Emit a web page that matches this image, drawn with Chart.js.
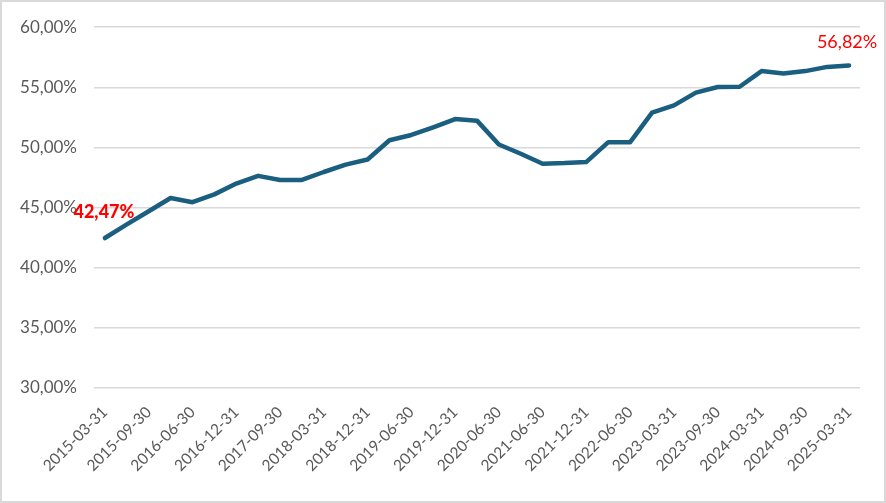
<!DOCTYPE html>
<html>
<head>
<meta charset="utf-8">
<script src="https://cdn.jsdelivr.net/npm/chart.js@4/dist/chart.umd.min.js"></script>
<style>
  body { margin: 0; background: #fff; }
  #box { width: 886px; height: 503px; }
</style>
</head>
<body>
<div id="box"><canvas id="myChart" width="886" height="503"></canvas></div>
<script>
const datas = [
  '2015-03-31', '2015-06-30', '2015-09-30', '2016-03-31', '2016-06-30', '2016-09-30',
  '2016-12-31', '2017-06-30', '2017-09-30', '2017-12-31', '2018-03-31', '2018-09-30',
  '2018-12-31', '2019-03-31', '2019-06-30', '2019-09-30', '2019-12-31', '2020-03-31',
  '2020-06-30', '2020-12-31', '2021-06-30', '2021-09-30', '2021-12-31', '2022-03-31',
  '2022-06-30', '2022-12-31', '2023-03-31', '2023-06-30', '2023-09-30', '2023-12-31',
  '2024-03-31', '2024-06-30', '2024-09-30', '2024-12-31', '2025-03-31'
]
const valores = [
  42.47, 43.6, 44.7, 45.8, 45.45, 46.1, 47.0, 47.64, 47.3, 47.3,
  47.96, 48.57, 49.0, 50.6, 51.04, 51.68, 52.36, 52.23, 50.25, 49.48,
  48.65, 48.7, 48.8, 50.44, 50.44, 52.9, 53.5, 54.56, 55.03, 55.05,
  56.35, 56.15, 56.35, 56.7, 56.82
]
const yTicks = [30, 35, 40, 45, 50, 55, 60]

const fmt = (v)=> v.toFixed(2).replace('.', ',') + '%'
const cinza = '#595959'
const fonte = 'Lato, "Open Sans", sans-serif'

// rotulos vermelhos no primeiro e no ultimo ponto
const rotulos = {
  id: 'rotulos',
  afterDatasetsDraw(chart) {
    let ctx = chart.ctx
    let pts = chart.getDatasetMeta(0).data
    let ultimo = pts.length - 1
    ctx.save()
    ctx.fillStyle = '#ff0000'
    ctx.textAlign = 'center'
    ctx.textBaseline = 'bottom'
    ctx.font = '900 18px ' + fonte
    ctx.fillText(fmt(valores[0]), pts[0].x - 1, pts[0].y - 17)
    ctx.font = '18px ' + fonte
    ctx.fillText(fmt(valores[ultimo]), pts[ultimo].x - 2, pts[ultimo].y - 14)
    ctx.restore()
  },
  afterDraw(chart) {
    let ctx = chart.ctx
    ctx.save()
    ctx.strokeStyle = '#d9d9d9'
    ctx.lineWidth = 2
    ctx.strokeRect(1, 1, chart.width - 2, chart.height - 2)
    ctx.restore()
  }
}

let ctx = document.getElementById('myChart').getContext('2d')
new Chart(ctx, {
  type: 'line',
  data: {
    labels: datas,
    datasets: [{
      data: valores,
      borderColor: '#1a5e80',
      borderWidth: 4.5,
      pointRadius: 0,
      tension: 0,
      borderJoinStyle: 'round',
      borderCapStyle: 'round'
    }]
  },
  options: {
    responsive: false,
    animation: false,
    layout: { padding: { top: 24, right: 26, left: 0, bottom: 0 } },
    plugins: { legend: { display: false }, tooltip: { enabled: false } },
    scales: {
      x: {
        offset: true,
        grid: { display: false },
        border: { display: false },
        afterFit: (s)=> { s.height = 115 },
        ticks: {
          autoSkip: false,
          maxRotation: 45,
          minRotation: 45,
          padding: 7,
          color: cinza,
          font: { family: fonte, size: 15.5 },
          callback: (v, i)=> i % 2 == 0 ? datas[i] : ''
        }
      },
      y: {
        min: yTicks[0],
        max: yTicks[yTicks.length - 1],
        afterFit: (s)=> { s.width = 94 },
        afterBuildTicks: (s)=> { s.ticks = yTicks.map(v => ({ value: v })) },
        grid: { color: '#d9d9d9', lineWidth: 1.5, drawTicks: false },
        border: { display: false },
        ticks: {
          padding: 17,
          color: cinza,
          font: { family: fonte, size: 17 },
          callback: (v)=> fmt(v)
        }
      }
    }
  },
  plugins: [rotulos]
})
</script>
</body>
</html>
